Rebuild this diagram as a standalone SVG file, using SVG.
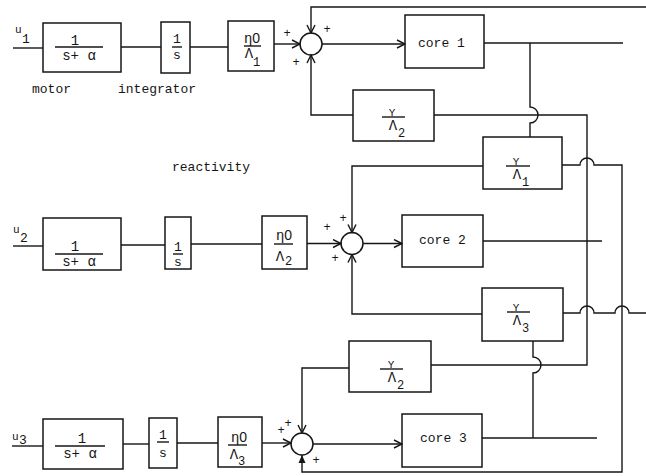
<svg xmlns="http://www.w3.org/2000/svg" width="646" height="476" viewBox="0 0 646 476">
<defs>
<style>
.b{fill:none;stroke:#161616;stroke-width:1.5}
.l{fill:none;stroke:#161616;stroke-width:1.4}
.t{font-family:"Liberation Mono","DejaVu Sans Mono",monospace;font-size:13px;fill:#161616}
.n{font-family:"Liberation Mono","DejaVu Sans Mono",monospace;font-size:14px;fill:#161616;text-anchor:middle}
.s{font-family:"Liberation Mono","DejaVu Sans Mono",monospace;font-size:12px;fill:#161616}
.y{font-family:"Liberation Mono","DejaVu Sans Mono",monospace;font-size:11px;fill:#161616;text-anchor:middle}
.p{font-family:"Liberation Mono","DejaVu Sans Mono",monospace;font-size:12px;fill:#161616;text-anchor:middle}
.z{font-family:"Liberation Sans","DejaVu Sans",sans-serif}
</style>
<marker id="a" markerWidth="10" markerHeight="10" refX="9" refY="5" orient="auto" markerUnits="userSpaceOnUse"><path d="M1,1 L9,5 L1,9" fill="none" stroke="#161616" stroke-width="1.4"/></marker>
<marker id="f" markerWidth="9" markerHeight="9" refX="8" refY="4.5" orient="auto" markerUnits="userSpaceOnUse"><path d="M0,1 L8,4.5 L0,8 Z" fill="#161616"/></marker>
</defs>
<rect width="646" height="476" fill="#ffffff"/>

<g id="connectors">
<!-- row 1 -->
<path class="l" d="M13,48 H43"/>
<path class="l" d="M121,47 H161"/>
<path class="l" d="M190,47 H228"/>
<path class="l" d="M274,44 H300" marker-end="url(#a)"/>
<path class="l" d="M322,44 H405" marker-end="url(#a)"/>
<path class="l" d="M646,7 H311 V33" marker-end="url(#a)"/>
<path class="l" d="M353,115 H311 V55" marker-end="url(#a)"/>
<path class="l" d="M434,115 H587 V365 H431"/>
<path class="l" d="M484,43 H623"/>
<path class="l" d="M530,43 V107 A8,8 0 0 1 530,123 V137"/>
<!-- row 2 -->
<path class="l" d="M13,246 H43"/>
<path class="l" d="M121,245 H165"/>
<path class="l" d="M191,244 H262"/>
<path class="l" d="M307,243.5 H341" marker-end="url(#a)"/>
<path class="l" d="M363,243.5 H402" marker-end="url(#a)"/>
<path class="l" d="M483,166 H352 V232.5" marker-end="url(#a)"/>
<path class="l" d="M482,314 H352 V254.5" marker-end="url(#a)"/>
<path class="l" d="M483,241 H602"/>
<path class="l" d="M562,165 H580 A7,7 0 0 1 594,165 H622 V472 H302 V455" marker-end="url(#f)"/>
<path class="l" d="M563,313 H580 A7,7 0 0 1 594,313 H615 A7,7 0 0 1 629,313 H646"/>
<!-- row 3 -->
<path class="l" d="M12,446 H43"/>
<path class="l" d="M123,444 H149"/>
<path class="l" d="M177,443 H218"/>
<path class="l" d="M262,443 H291" marker-end="url(#a)"/>
<path class="l" d="M313,444 H402" marker-end="url(#a)"/>
<path class="l" d="M349,368 H302 V433" marker-end="url(#a)"/>
<path class="l" d="M482,438 H597"/>
<path class="l" d="M533,438 V373 A8,8 0 0 0 533,357 V341"/>
</g>

<!-- labels -->
<g id="labels">
<text class="t" x="15" y="33" style="font-size:11px">u</text><text class="s" x="22" y="43" style="font-size:13px">1</text>
<text class="t" x="13" y="233" style="font-size:11px">u</text><text class="s" x="20" y="242" style="font-size:13px">2</text>
<text class="t" x="12" y="440" style="font-size:11px">u</text><text class="s" x="19" y="444" style="font-size:13px">3</text>
<text class="t" x="32" y="93">motor</text>
<text class="t" x="118" y="93">integrator</text>
<text class="t" x="172" y="171">reactivity</text>
</g>

<!-- row 1 nodes -->
<g id="motor1">
<rect class="b" x="43" y="23" width="78" height="49"/>
<text class="n" x="75" y="45">1</text>
<line class="l" x1="55" y1="47" x2="103" y2="47"/>
<text class="n" x="79" y="60">s+ α</text>
</g>
<g id="integrator1">
<rect class="b" x="161" y="22" width="29" height="51"/>
<text class="n" x="177" y="43" style="font-size:13px">1</text>
<line class="l" x1="172" y1="47" x2="182" y2="47"/>
<text class="n" x="177" y="59" style="font-size:13px">s</text>
</g>
<g id="gain1">
<rect class="b" x="228" y="21" width="46" height="50"/>
<text class="n" x="252" y="43">η<tspan class="z">0</tspan></text>
<line class="l" x1="244" y1="46" x2="261" y2="46"/>
<text class="n" x="249" y="58">Λ</text>
<text class="s" x="253" y="66">1</text>
</g>
<g id="sum1">
<circle class="b" cx="311" cy="44" r="11"/>
<text class="p" x="287" y="37">+</text>
<text class="p" x="327" y="33">+</text>
<text class="p" x="296" y="66">+</text>
</g>
<g id="core1">
<rect class="b" x="405" y="15" width="79" height="53"/>
<text class="t" x="418" y="47">core 1</text>
</g>
<g id="fb12top">
<rect class="b" x="353" y="90" width="81" height="51"/>
<text class="y" x="392" y="116">Y</text>
<line class="l" x1="382" y1="117" x2="405" y2="117"/>
<text class="n" x="393" y="130">Λ</text>
<text class="s" x="398" y="137">2</text>
</g>
<g id="fb1">
<rect class="b" x="483" y="137" width="79" height="52"/>
<text class="y" x="516" y="165">Y</text>
<line class="l" x1="506" y1="166" x2="530" y2="166"/>
<text class="n" x="517" y="179">Λ</text>
<text class="s" x="522" y="186">1</text>
</g>

<!-- row 2 nodes -->
<g id="motor2">
<rect class="b" x="43" y="218" width="78" height="52"/>
<text class="n" x="75" y="251">1</text>
<line class="l" x1="55" y1="254" x2="103" y2="254"/>
<text class="n" x="79" y="266">s+ α</text>
</g>
<g id="integrator2">
<rect class="b" x="165" y="217" width="26" height="52"/>
<text class="n" x="178" y="251" style="font-size:13px">1</text>
<line class="l" x1="173" y1="254" x2="183" y2="254"/>
<text class="n" x="178" y="266" style="font-size:13px">s</text>
</g>
<g id="gain2">
<rect class="b" x="262" y="216" width="45" height="53"/>
<text class="n" x="284" y="240">η<tspan class="z">0</tspan></text>
<line class="l" x1="274" y1="244" x2="293" y2="244"/>
<text class="n" x="280" y="261">Λ</text>
<text class="s" x="285" y="265">2</text>
</g>
<g id="sum2">
<circle class="b" cx="352" cy="243.5" r="11"/>
<text class="p" x="327" y="231">+</text>
<text class="p" x="343" y="222">+</text>
<text class="p" x="335" y="262">+</text>
</g>
<g id="core2">
<rect class="b" x="402" y="215" width="81" height="52"/>
<text class="t" x="419" y="244">core 2</text>
</g>
<g id="fb3">
<rect class="b" x="482" y="288" width="81" height="53"/>
<text class="y" x="516" y="311">Y</text>
<line class="l" x1="507" y1="312" x2="530" y2="312"/>
<text class="n" x="517" y="325">Λ</text>
<text class="s" x="522" y="332">3</text>
</g>

<!-- row 3 nodes -->
<g id="motor3">
<rect class="b" x="43" y="419" width="80" height="50"/>
<text class="n" x="82" y="443">1</text>
<line class="l" x1="55" y1="446" x2="105" y2="446"/>
<text class="n" x="80" y="458">s+ α</text>
</g>
<g id="integrator3">
<rect class="b" x="149" y="418" width="28" height="50"/>
<text class="n" x="163" y="439" style="font-size:13px">1</text>
<line class="l" x1="157" y1="442" x2="169" y2="442"/>
<text class="n" x="163" y="457" style="font-size:13px">s</text>
</g>
<g id="gain3">
<rect class="b" x="218" y="417" width="44" height="50"/>
<text class="n" x="239" y="442">η<tspan class="z">0</tspan></text>
<line class="l" x1="228" y1="445" x2="247" y2="445"/>
<text class="n" x="234" y="459">Λ</text>
<text class="s" x="238" y="465">3</text>
</g>
<g id="sum3">
<circle class="b" cx="302" cy="444" r="11"/>
<text class="p" x="281" y="434">+</text>
<text class="p" x="288" y="427">+</text>
<text class="p" x="316" y="464">+</text>
</g>
<g id="core3">
<rect class="b" x="402" y="414" width="80" height="53"/>
<text class="t" x="420" y="442">core 3</text>
</g>
<g id="fb32bottom">
<rect class="b" x="349" y="341" width="82" height="51"/>
<text class="y" x="391" y="368">Y</text>
<line class="l" x1="380" y1="369" x2="403" y2="369"/>
<text class="n" x="392" y="382">Λ</text>
<text class="s" x="397" y="389">2</text>
</g>
</svg>
